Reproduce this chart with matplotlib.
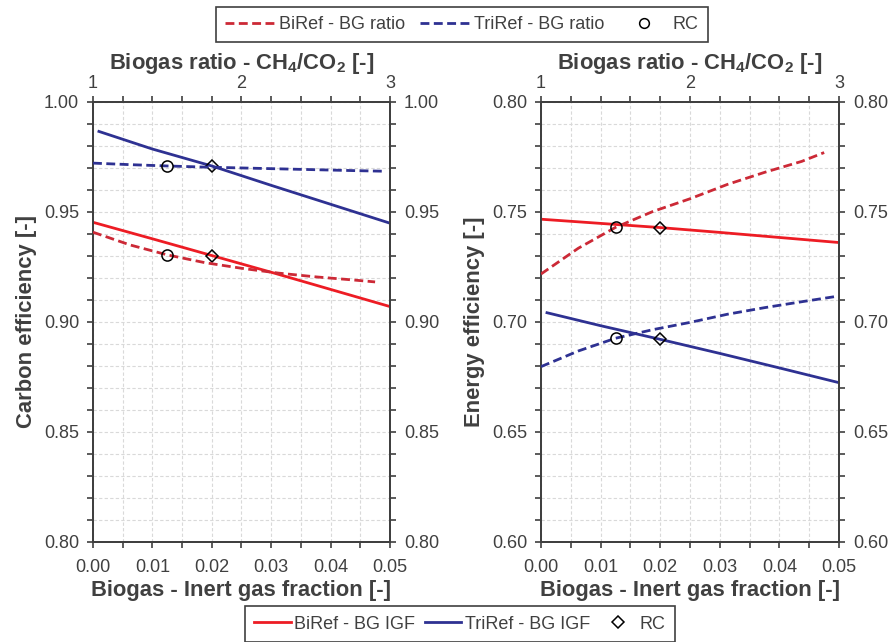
import matplotlib
matplotlib.use("Agg")
import matplotlib.pyplot as plt
from matplotlib.lines import Line2D
from matplotlib.ticker import MultipleLocator, FormatStrFormatter

plt.rcParams['font.family'] = ['Liberation Sans', 'DejaVu Sans']
plt.rcParams['mathtext.fontset'] = 'custom'
plt.rcParams['mathtext.rm'] = 'Liberation Sans'
plt.rcParams['mathtext.bf'] = 'Liberation Sans:bold'

# ---- data -------------------------------------------------------------
# Inert gas fraction sweep (bottom axis)
igf = [0.0, 0.01, 0.02, 0.03, 0.04, 0.05]
igf_tri_start = 0.001

# Carbon efficiency vs inert gas fraction
ce_biref_igf = [0.9453, 0.9378, 0.9302, 0.9226, 0.9148, 0.9070]
ce_triref_igf = [0.9866, 0.9786, 0.9709, 0.9621, 0.9535, 0.9449]
# Energy efficiency vs inert gas fraction
ee_biref_igf = [0.7467, 0.7448, 0.7429, 0.7407, 0.7384, 0.7361]
ee_triref_igf = [0.7042, 0.6983, 0.6921, 0.6857, 0.6791, 0.6724]

# Biogas CH4/CO2 ratio sweep (top axis)
ratio_bi = [1.0, 1.25, 1.5, 1.75, 2.0, 2.25, 2.5, 2.75, 2.9]
ratio_tri = [1.0, 1.25, 1.5, 1.75, 2.0, 2.25, 2.5, 2.75, 2.97]

ce_biref_ratio = [0.9408, 0.9350, 0.9305, 0.9270, 0.9244, 0.9222, 0.9205, 0.9191, 0.9182]
ce_triref_ratio = [0.9722, 0.9715, 0.9709, 0.9704, 0.9700, 0.9696, 0.9692, 0.9688, 0.9685]
ee_biref_ratio = [0.7218, 0.7335, 0.7430, 0.7502, 0.7560, 0.7625, 0.7680, 0.7730, 0.7770]
ee_triref_ratio = [0.6797, 0.6868, 0.6926, 0.6965, 0.6998, 0.7035, 0.7065, 0.7092, 0.7115]

# Reference case points
rc_ratio = 1.5
rc_igf = 0.02
rc_ce_ratio = [0.9305, 0.9709]
rc_ce_igf = [0.9302, 0.9709]
rc_ee_ratio = [0.7430, 0.6926]
rc_ee_igf = [0.7429, 0.6921]

# ---- styling ----------------------------------------------------------
RED_SOLID = '#ed1c24'
RED_DASH = '#cc2936'
BLUE = '#2e3192'
TXT = '#404040'
GRID = '#d9d9d9'
DASHES = (3.2, 1.6)

fig = plt.figure(figsize=(8.95, 6.42), dpi=100)

panels = [
    dict(pos=[0.1039, 0.1558, 0.3318, 0.6854], ylim=(0.80, 1.00),
         ylabel='Carbon efficiency [-]',
         bi_igf=ce_biref_igf, tri_igf=ce_triref_igf,
         bi_ratio=ce_biref_ratio, tri_ratio=ce_triref_ratio,
         rc_r=rc_ce_ratio, rc_i=rc_ce_igf),
    dict(pos=[0.6045, 0.1558, 0.3330, 0.6854], ylim=(0.60, 0.80),
         ylabel='Energy efficiency [-]',
         bi_igf=ee_biref_igf, tri_igf=ee_triref_igf,
         bi_ratio=ee_biref_ratio, tri_ratio=ee_triref_ratio,
         rc_r=rc_ee_ratio, rc_i=rc_ee_igf),
]

for p in panels:
    ax = fig.add_axes(p['pos'])
    ax.set_xlim(0, 0.05)
    ax.set_ylim(*p['ylim'])
    ax.xaxis.set_major_locator(MultipleLocator(0.01))
    ax.xaxis.set_minor_locator(MultipleLocator(0.005))
    ax.yaxis.set_major_locator(MultipleLocator(0.05))
    ax.yaxis.set_minor_locator(MultipleLocator(0.01))
    ax.xaxis.set_major_formatter(FormatStrFormatter('%.2f'))
    ax.yaxis.set_major_formatter(FormatStrFormatter('%.2f'))
    ax.grid(which='both', color=GRID, linestyle=(0, (3, 2)), linewidth=0.8)
    ax.set_axisbelow(True)
    ax.tick_params(which='both', direction='out', length=4, width=1.2,
                   color=TXT, labelcolor=TXT, labelsize=13,
                   right=True, labelright=True)
    ax.tick_params(axis='y', pad=6)
    ax.tick_params(axis='x', pad=8)
    for s in ax.spines.values():
        s.set_color(TXT)
        s.set_linewidth(1.4)
    ax.set_xlabel('Biogas - Inert gas fraction [-]', fontsize=15.8,
                  fontweight='bold', color=TXT, labelpad=3)
    ax.set_ylabel(p['ylabel'], fontsize=15.8, fontweight='bold',
                  color=TXT, labelpad=5)

    ax.plot(igf, p['bi_igf'], color=RED_SOLID, lw=2.0, zorder=3)
    ax.plot([igf_tri_start] + igf[1:], p['tri_igf'], color=BLUE, lw=2.0, zorder=3)
    ax.plot([rc_igf, rc_igf], p['rc_i'], linestyle='none', marker='D',
            ms=6.5, mfc='none', mec='black', mew=1.1, zorder=5)

    ax2 = ax.twiny()
    ax2.set_xlim(1, 3)
    ax2.xaxis.set_major_locator(MultipleLocator(1))
    ax2.xaxis.set_minor_locator(MultipleLocator(0.2))
    ax2.tick_params(which='both', direction='out', length=4, width=1.2,
                    color=TXT, labelcolor=TXT, labelsize=13)
    for s in ax2.spines.values():
        s.set_color(TXT)
        s.set_linewidth(1.4)
    ax2.set_xlabel(r'Biogas ratio - CH$_\mathbf{4}$/CO$_\mathbf{2}$ [-]',
                   fontsize=15.8, fontweight='bold', color=TXT, labelpad=4)
    ax2.plot(ratio_bi, p['bi_ratio'], color=RED_DASH, lw=2.0,
             dashes=DASHES, zorder=3)
    ax2.plot(ratio_tri, p['tri_ratio'], color=BLUE, lw=2.0,
             dashes=DASHES, zorder=3)
    ax2.plot([rc_ratio, rc_ratio], p['rc_r'], linestyle='none', marker='o',
             ms=8, mfc='none', mec='black', mew=1.1, zorder=5)

# Legends
top_handles = [
    Line2D([], [], color=RED_DASH, lw=2.0, dashes=DASHES),
    Line2D([], [], color=BLUE, lw=2.0, dashes=DASHES),
    Line2D([], [], linestyle='none', marker='o', ms=7, mfc='none',
           mec='black', mew=1.1),
]
bot_handles = [
    Line2D([], [], color=RED_SOLID, lw=2.0),
    Line2D([], [], color=BLUE, lw=2.0),
    Line2D([], [], linestyle='none', marker='D', ms=6, mfc='none',
           mec='black', mew=1.1),
]
leg_kw = dict(ncol=3, fontsize=13, frameon=True, fancybox=False,
              handletextpad=0.2, borderpad=0.5, labelcolor=TXT)
leg1 = fig.legend(top_handles, ['BiRef - BG ratio', 'TriRef - BG ratio', 'RC'],
                  loc='center', bbox_to_anchor=(0.516, 0.962),
                  handlelength=2.8, columnspacing=0.8, **leg_kw)
leg2 = fig.legend(bot_handles, ['BiRef - BG IGF', 'TriRef - BG IGF', 'RC'],
                  loc='center', bbox_to_anchor=(0.514, 0.028),
                  handlelength=2.0, columnspacing=0.55, **leg_kw)
for lg in (leg1, leg2):
    fr = lg.get_frame()
    fr.set_edgecolor(TXT)
    fr.set_linewidth(1.2)
    fr.set_alpha(1)

fig.savefig('out.png', dpi=100)
